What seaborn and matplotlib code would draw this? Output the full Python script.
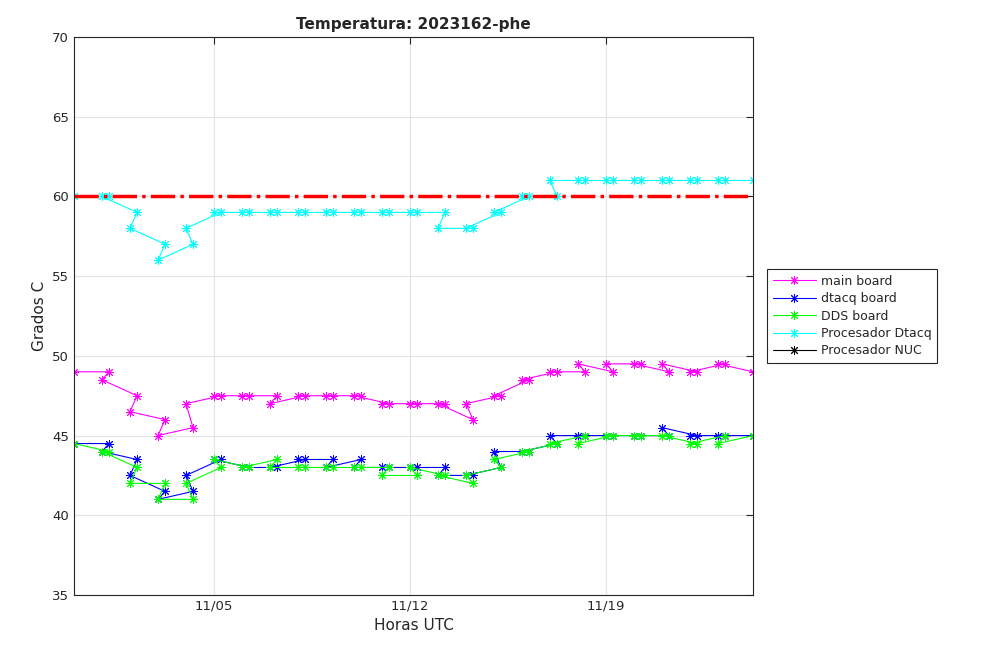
import numpy as np
import pandas as pd
import matplotlib
matplotlib.use("Agg")
import matplotlib.pyplot as plt
import matplotlib.dates as mdates
from matplotlib.lines import Line2D
import seaborn as sns

# dias de medida (10/31 .. 11/24), dos lecturas por dia: 00h y 06h
days = pd.date_range("2023-10-31", "2023-11-24", freq="D")
nan = np.nan

main_00 = [49, 48.5, 46.5, 45, 47, 47.5, 47.5, 47, 47.5, 47.5, 47.5, 47, 47,
           47, 47, 47.5, 48.5, 49, 49.5, 49.5, 49.5, 49.5, 49, 49.5, nan]
main_06 = [nan, 49, 47.5, 46, 45.5, 47.5, 47.5, 47.5, 47.5, 47.5, 47.5, 47, 47,
           47, 46, 47.5, 48.5, 49, 49, 49, 49.5, 49, 49, 49.5, 49]

dtacq_00 = [44.5, 44, 42.5, 41, 42.5, 43.5, 43, 43, 43.5, 43, 43, 43, 43,
            42.5, 42.5, 44, 44, 45, 45, 45, 45, 45.5, 45, 45, nan]
dtacq_06 = [nan, 44.5, 43.5, 41.5, 41.5, 43.5, 43, 43, 43.5, 43.5, 43.5, 43, 43,
            43, 42.5, 43, 44, 44.5, 45, 45, 45, 45, 45, 45, 45]

dds_00 = [44.5, 44, 42, 41, 42, 43.5, 43, 43, 43, 43, 43, 42.5, 43,
          42.5, 42.5, 43.5, 44, 44.5, 44.5, 45, 45, 45, 44.5, 44.5, nan]
dds_06 = [nan, 44, 43, 42, 41, 43, 43, 43.5, 43, 43, 43, 43, 42.5,
          42.5, 42, 43, 44, 44.5, 45, 45, 45, 45, 44.5, 45, 45]

proc_00 = [60, 60, 58, 56, 58, 59, 59, 59, 59, 59, 59, 59, 59,
           58, 58, 59, 60, 61, 61, 61, 61, 61, 61, 61, nan]
proc_06 = [nan, 60, 59, 57, 57, 59, 59, 59, 59, 59, 59, 59, 59,
           59, 58, 59, 60, 60, 61, 61, 61, 61, 61, 61, 61]

nuc_00 = [nan] * len(days)
nuc_06 = [nan] * len(days)

umbral = 60

series = [
    ("main board", main_00, main_06, "#ff00ff"),
    ("dtacq board", dtacq_00, dtacq_06, "#0000ff"),
    ("DDS board", dds_00, dds_06, "#00ff00"),
    ("Procesador Dtacq", proc_00, proc_06, "#00ffff"),
    ("Procesador NUC", nuc_00, nuc_06, "#000000"),
]


def to_frame(v00, v06):
    # los ficheros se leen 06h antes que 00h en cada dia
    rows = []
    for d, a, b in zip(days, v00, v06):
        rows.append((d + pd.Timedelta(hours=6), b))
        rows.append((d, a))
    df = pd.DataFrame(rows, columns=["t", "temp"])
    return df.dropna()


sns.set_style("white")
plt.rcParams["font.family"] = ["DejaVu Sans"]

fig = plt.figure(figsize=(10.08, 6.61), dpi=100)
ax = fig.add_axes([74 / 1008, 66 / 661, 679 / 1008, 558 / 661])

star = (8, 2, 0)
handles = []
for name, v00, v06, col in series:
    df = to_frame(v00, v06)
    if len(df):
        sns.lineplot(data=df, x="t", y="temp", sort=False, estimator=None,
                     color=col, lw=0.8, marker=star, markersize=6.5,
                     markeredgewidth=0.7, markeredgecolor=col, ax=ax)
    handles.append(Line2D([], [], color=col, lw=0.8, marker=star,
                          markersize=6.5, markeredgewidth=0.7, label=name))

# limite de temperatura
ax.axhline(umbral, color="red", lw=2.5, dashes=(7, 1.5, 1, 1.5))

ax.set_xlim(days[0], days[-1] + pd.Timedelta(hours=6))
ax.set_ylim(35, 70)
ax.set_yticks(range(35, 71, 5))
ax.set_xticks(pd.to_datetime(["2023-11-05", "2023-11-12", "2023-11-19"]))
ax.xaxis.set_major_formatter(mdates.DateFormatter("%m/%d"))
ax.grid(True, color="#e3e3e3", lw=0.8)
ax.set_axisbelow(True)
ax.tick_params(direction="in", top=True, right=True, labelsize=9.5,
               colors="#262626", length=5)
for s in ax.spines.values():
    s.set_color("#262626")
    s.set_linewidth(0.8)

ax.set_title("Temperatura: 2023162-phe", fontsize=11, fontweight="bold")
ax.set_xlabel("Horas UTC", fontsize=11, color="#262626")
ax.set_ylabel("Grados C", fontsize=11, color="#262626")

leg = ax.legend(handles=handles, loc="center left", bbox_to_anchor=(1.012, 0.5),
                fontsize=9, fancybox=False, framealpha=1, edgecolor="#262626",
                handlelength=3.4, handletextpad=0.4, borderpad=0.45,
                labelspacing=0.35)
leg.get_frame().set_linewidth(0.8)

fig.savefig("out.png", dpi=100)
